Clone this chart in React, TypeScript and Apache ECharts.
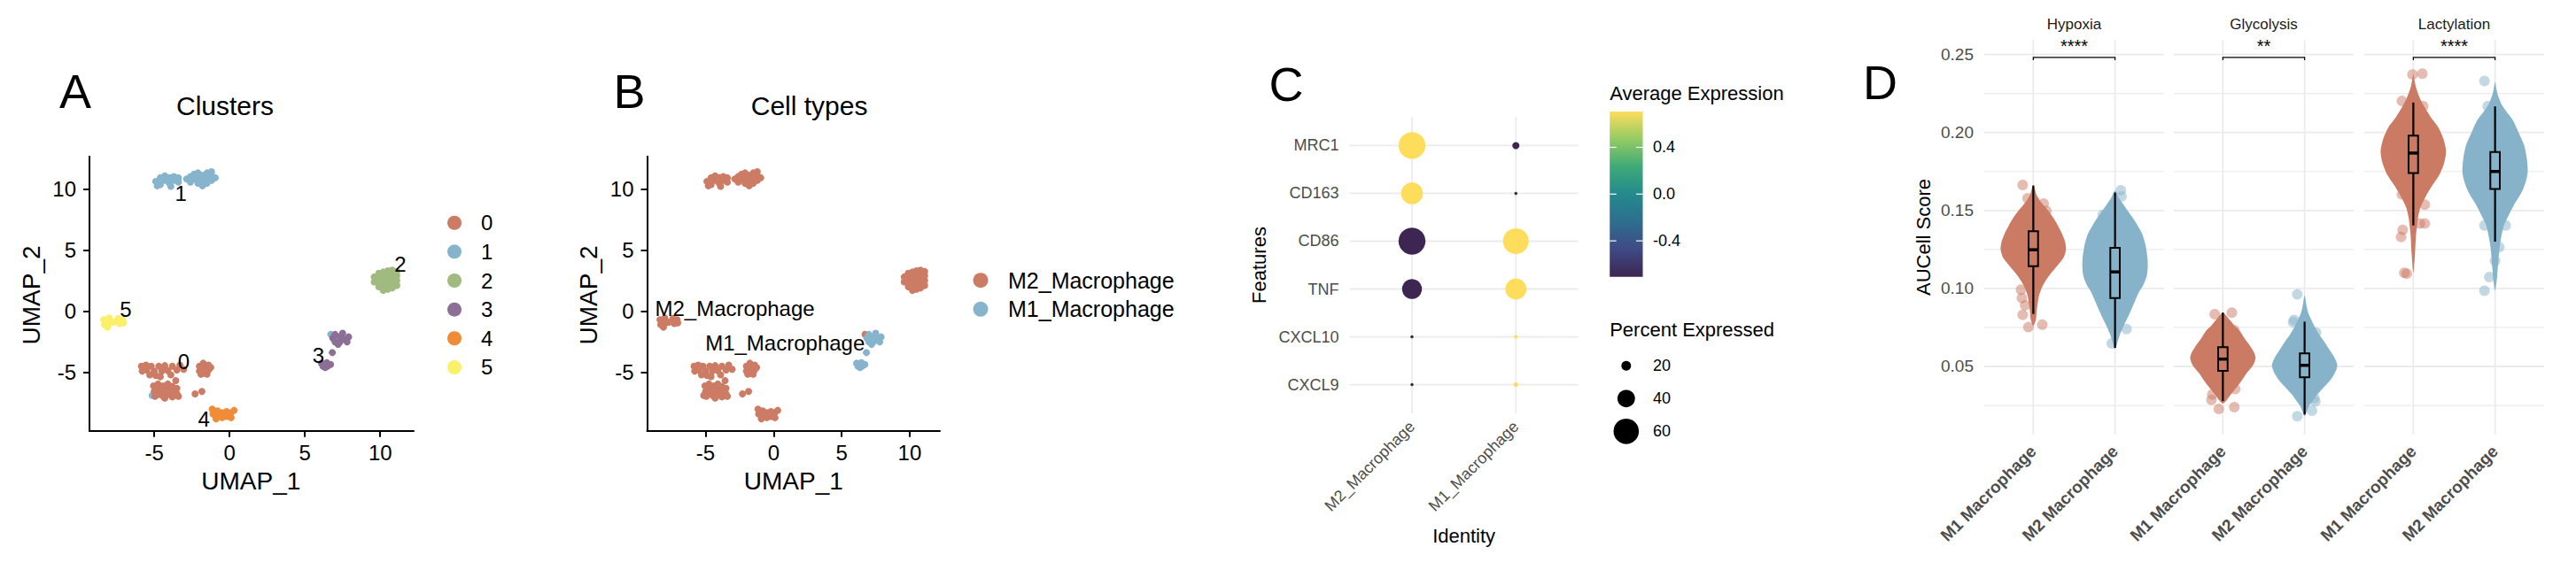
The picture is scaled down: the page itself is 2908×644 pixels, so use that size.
import React, { useEffect, useRef } from "react";
import * as echarts from "echarts";

const FONT = "'Liberation Sans', Arial, Helvetica, sans-serif";

// ---------------- Panels A / B : UMAP ----------------
const UMAP_X_RANGE = [-9.3, 12.22];
const UMAP_Y_RANGE = [-9.77, 12.65];
const UMAP_TICKS = [-5, 0, 5, 10];

const CLUSTER_IDS = ["0", "1", "2", "3", "4", "5"];
const CLUSTER_COLORS = ["#CC7B65", "#86B4CC", "#A0BA80", "#8C6F95", "#F08C38", "#FAF06A"];

const CLUSTER_0 = [
  [-5.85, -4.5], [-5.8, -4.9], [-5.55, -4.4], [-5.5, -4.8], [-5.3, -5.2], [-5.2, -4.5], [-5.0, -4.9],
  [-4.9, -5.25], [-4.7, -4.5], [-4.5, -4.9], [-4.3, -4.45], [-4.1, -4.85], [-3.9, -5.2], [-3.8, -4.5],
  [-3.5, -4.8], [-3.3, -4.4], [-3.05, -4.75], [-4.6, -5.35],
  [-5.05, -6.1], [-5.0, -6.55], [-4.75, -5.95], [-4.7, -6.35], [-4.7, -6.8], [-4.4, -6.1], [-4.4, -6.5],
  [-4.4, -6.95], [-4.1, -5.95], [-4.1, -6.35], [-4.1, -6.8], [-3.8, -6.15], [-3.8, -6.55], [-3.8, -7.0],
  [-3.5, -6.3], [-3.5, -6.75], [-4.95, -6.95], [-3.4, -6.95], [-3.57, -5.67], [-4.3, -7.1],
  [-2.0, -4.5], [-2.0, -4.9], [-1.75, -4.25], [-1.7, -4.65], [-1.7, -5.05], [-1.4, -4.4], [-1.4, -4.8],
  [-1.25, -4.6], [-1.9, -5.15], [-1.5, -5.15],
  [-2.29, -6.75], [-1.84, -6.56],
];
const CLUSTER_1 = [
  [-4.9, 10.6], [-4.6, 10.9], [-4.6, 10.35], [-4.3, 10.7], [-4.3, 11.05], [-4.0, 10.45], [-4.0, 10.9],
  [-3.7, 10.7], [-3.7, 11.0], [-3.4, 10.55], [-3.4, 10.9], [-4.8, 10.25], [-3.9, 10.2],
  [-2.85, 10.8], [-2.6, 10.55], [-2.6, 11.0], [-2.35, 10.8], [-2.35, 11.2], [-2.1, 10.45], [-2.1, 10.9],
  [-2.1, 11.3], [-1.8, 10.65], [-1.8, 11.1], [-1.8, 10.25], [-1.5, 10.9], [-1.5, 10.45], [-1.5, 11.3],
  [-1.2, 10.7], [-1.2, 11.1], [-0.95, 10.9], [-1.2, 11.4],
  [-5.14, -6.88], [6.72, -1.89],
];
const CLUSTER_2 = [
  [9.6, 2.4], [9.6, 2.8], [9.9, 2.0], [9.9, 2.4], [9.9, 2.8], [9.9, 3.1], [10.2, 1.7], [10.2, 2.1],
  [10.2, 2.5], [10.2, 2.9], [10.2, 3.2], [10.5, 1.8], [10.5, 2.2], [10.5, 2.6], [10.5, 3.0], [10.5, 3.3],
  [10.8, 1.9], [10.8, 2.3], [10.8, 2.7], [10.8, 3.1], [10.8, 3.35], [11.1, 2.1], [11.1, 2.5], [11.1, 2.9],
  [11.1, 3.25],
];
const CLUSTER_3 = [
  [6.85, -2.2], [7.0, -1.9], [7.0, -2.5], [7.3, -2.1], [7.3, -2.55], [7.5, -1.8], [7.6, -2.3],
  [7.9, -2.1], [7.8, -2.5], [7.2, -2.7], [6.82, -3.38],
  [6.1, -4.25], [6.2, -4.5], [6.45, -4.2], [6.5, -4.5], [6.7, -4.35], [6.35, -4.6],
];
const CLUSTER_4 = [
  [-1.15, -8.0], [-1.1, -8.4], [-0.8, -8.15], [-0.8, -8.55], [-0.5, -8.3], [-0.5, -8.7], [-0.2, -8.2],
  [-0.2, -8.6], [0.1, -8.3], [0.1, -8.7], [0.3, -8.1], [-0.9, -8.8],
];
const CLUSTER_5 = [
  [-8.35, -0.7], [-8.3, -1.1], [-8.0, -0.55], [-8.0, -1.0], [-8.1, -1.3], [-7.7, -0.9], [-7.4, -0.6],
  [-7.3, -1.0], [-7.1, -0.7], [-7.05, -0.95],
];
const CLUSTER_POINTS = [CLUSTER_0, CLUSTER_1, CLUSTER_2, CLUSTER_3, CLUSTER_4, CLUSTER_5];
const CLUSTER_DRAW_ORDER = [1, 0, 2, 3, 4, 5];
const CLUSTER_LABEL_POS = [[-3.04, -4.1], [-3.24, 9.64], [11.33, 3.85], [5.9, -3.62], [-1.7, -8.8], [-6.9, 0.12]];

const CELL_TYPES = ["M2_Macrophage", "M1_Macrophage"];
const CELL_TYPE_COLORS = ["#CC7B65", "#86B4CC"];
const CLUSTER_TO_CELL_TYPE = [0, 0, 0, 1, 0, 0];
const CELL_TYPE_LABEL_POS = [[-2.85, 0.26], [0.84, -2.63]];

// ---------------- Panel C : dot plot ----------------
const FEATURES = ["MRC1", "CD163", "CD86", "TNF", "CXCL10", "CXCL9"];
const IDENTITIES = ["M2_Macrophage", "M1_Macrophage"];
const AVG_EXP_M2 = [0.707, 0.707, -0.707, -0.707, -0.707, -0.707];
const AVG_EXP_M1 = [-0.707, -0.707, 0.707, 0.707, 0.707, 0.707];
const PCT_EXP_M2 = [64, 51, 64, 46, 3.5, 3.4];
const PCT_EXP_M1 = [13.5, 3.4, 61, 49, 5, 7];
const AVG_EXP_LIMIT = 0.7071;
const COLORBAR_TICKS = [-0.4, 0, 0.4];
const SIZE_LEGEND = [20, 40, 60];
const VIRIDIS = ["#3D2652", "#3F4A85", "#2E6E8E", "#238A8D", "#3FAA78", "#94CB63", "#FEDD5C"];

// ---------------- Panel D : violins ----------------
const FACETS = ["Hypoxia", "Glycolysis", "Lactylation"];
const GROUPS = ["M1 Macrophage", "M2 Macrophage"];
const GROUP_COLORS = ["#CB7A64", "#86B3CA"];
const SIG_LABELS = ["****", "**", "****"];
const SIG_Y = 0.2481;
const AUC_Y_RANGE = [0.0064, 0.2593];
const AUC_MAJOR = [0.05, 0.1, 0.15, 0.2, 0.25];
const AUC_MINOR = [0.025, 0.075, 0.125, 0.175, 0.225];

// [value, relative density width]
const HYPOXIA_M1_DENSITY = [[0.166, 0], [0.16, 0.1], [0.155, 0.25], [0.15, 0.45], [0.145, 0.62], [0.14, 0.76], [0.135, 0.88], [0.13, 0.97], [0.125, 1.0], [0.12, 0.93], [0.115, 0.75], [0.11, 0.55], [0.105, 0.38], [0.1, 0.25], [0.095, 0.17], [0.09, 0.13], [0.085, 0.1], [0.08, 0.08], [0.076, 0]];
const HYPOXIA_M2_DENSITY = [[0.1626, 0], [0.158, 0.12], [0.154, 0.25], [0.15, 0.38], [0.145, 0.55], [0.14, 0.7], [0.135, 0.83], [0.128, 0.93], [0.12, 0.99], [0.114, 1.0], [0.108, 0.97], [0.102, 0.86], [0.098, 0.74], [0.093, 0.63], [0.087, 0.51], [0.081, 0.38], [0.075, 0.24], [0.07, 0.14], [0.065, 0.07], [0.061, 0]];
const GLYCOLYSIS_M1_DENSITY = [[0.0845, 0], [0.08, 0.2], [0.076, 0.36], [0.073, 0.51], [0.068, 0.66], [0.0635, 0.82], [0.059, 0.95], [0.0554, 1.0], [0.051, 0.93], [0.0449, 0.7], [0.041, 0.58], [0.0379, 0.47], [0.034, 0.32], [0.0309, 0.2], [0.028, 0.1], [0.0262, 0]];
const GLYCOLYSIS_M2_DENSITY = [[0.0957, 0], [0.09, 0.05], [0.085, 0.1], [0.08, 0.2], [0.075, 0.32], [0.07, 0.46], [0.0659, 0.6], [0.06, 0.78], [0.055, 0.93], [0.0507, 1.0], [0.046, 0.93], [0.041, 0.78], [0.0355, 0.54], [0.031, 0.35], [0.0285, 0.27], [0.024, 0.12], [0.0181, 0]];
const LACTYLATION_M1_DENSITY = [[0.2372, 0], [0.233, 0.04], [0.229, 0.08], [0.222, 0.2], [0.215, 0.38], [0.209, 0.56], [0.2034, 0.76], [0.196, 0.92], [0.1882, 1.0], [0.181, 0.95], [0.173, 0.8], [0.166, 0.58], [0.159, 0.38], [0.152, 0.22], [0.145, 0.14], [0.1334, 0.08], [0.122, 0.05], [0.11, 0]];
const LACTYLATION_M2_DENSITY = [[0.2325, 0], [0.228, 0.04], [0.2244, 0.08], [0.218, 0.2], [0.213, 0.36], [0.208, 0.54], [0.2, 0.72], [0.1917, 0.89], [0.1835, 0.97], [0.1754, 1.0], [0.17, 0.96], [0.1638, 0.86], [0.159, 0.74], [0.1544, 0.6], [0.147, 0.42], [0.1404, 0.27], [0.133, 0.19], [0.1264, 0.14], [0.1124, 0.08], [0.105, 0.05], [0.0985, 0]];

// [min, q1, median, q3, max]
const HYPOXIA_BOX = [[0.0836, 0.1143, 0.1248, 0.1367, 0.166], [0.0619, 0.0938, 0.1106, 0.126, 0.1615]];
const GLYCOLYSIS_BOX = [[0.0278, 0.0472, 0.0547, 0.0624, 0.0845], [0.0192, 0.043, 0.0507, 0.0584, 0.0787]];
const LACTYLATION_BOX = [[0.1404, 0.174, 0.1868, 0.198, 0.2192], [0.13, 0.1638, 0.175, 0.1875, 0.2167]];

// jittered cells: [horizontal jitter, score]
const HYPOXIA_M1_CELLS = [[-0.13, 0.1663], [-0.07, 0.1578], [0.126, 0.1544], [0.16, 0.1497], [-0.15, 0.0992], [-0.14, 0.0938], [-0.1, 0.0892], [-0.13, 0.0831], [-0.06, 0.0752], [0.11, 0.0768]];
const HYPOXIA_M2_CELLS = [[0.07, 0.163], [0.08, 0.159], [-0.15, 0.1472], [0.14, 0.074], [-0.04, 0.0647]];
const GLYCOLYSIS_M1_CELLS = [[0.11, 0.0845], [0.14, 0.0733], [-0.1, 0.0835], [-0.14, 0.0285], [-0.05, 0.0227], [0.14, 0.0239], [0.15, 0.0355], [-0.13, 0.032]];
const GLYCOLYSIS_M2_CELLS = [[-0.09, 0.0962], [-0.13, 0.0798], [-0.14, 0.0784], [0.14, 0.0717], [0.12, 0.0297], [-0.09, 0.0181], [0.09, 0.0216], [0.13, 0.0275]];
const LACTYLATION_M1_CELLS = [[-0.01, 0.2372], [0.11, 0.2377], [-0.14, 0.2202], [0.12, 0.2169], [-0.14, 0.1603], [0.14, 0.1537], [0.14, 0.1416], [0.08, 0.1416], [-0.13, 0.1376], [-0.15, 0.133], [-0.11, 0.11], [-0.08, 0.1095]];
const LACTYLATION_M2_CELLS = [[-0.13, 0.233], [-0.09, 0.2169], [0.14, 0.2057], [-0.1, 0.2045], [-0.13, 0.1404], [0.13, 0.1404], [0.05, 0.1264], [0.0, 0.1176], [-0.07, 0.1073], [-0.13, 0.0985]];

const DENSITIES = [
  [HYPOXIA_M1_DENSITY, HYPOXIA_M2_DENSITY],
  [GLYCOLYSIS_M1_DENSITY, GLYCOLYSIS_M2_DENSITY],
  [LACTYLATION_M1_DENSITY, LACTYLATION_M2_DENSITY],
];
const BOXES = [HYPOXIA_BOX, GLYCOLYSIS_BOX, LACTYLATION_BOX];
const CELLS = [
  [HYPOXIA_M1_CELLS, HYPOXIA_M2_CELLS],
  [GLYCOLYSIS_M1_CELLS, GLYCOLYSIS_M2_CELLS],
  [LACTYLATION_M1_CELLS, LACTYLATION_M2_CELLS],
];

const dotDiameter = (p: number) => 2 + 0.445 * p;

function T(text: string, x: number, y: number, size: number, o: any = {}) {
  const align = o.align || "center";
  const va = o.va || "middle";
  return {
    type: "text",
    x,
    y,
    rotation: o.rotation || 0,
    silent: true,
    z: 10,
    style: {
      text,
      fontSize: size,
      fontFamily: FONT,
      fontWeight: o.weight || "normal",
      fill: o.color || "#000",
      align,
      verticalAlign: va,
      textAlign: align,
      textVerticalAlign: va,
    },
  };
}

function buildOption() {
  const gridD = (left: number) => ({ left, top: 45.2, width: 203, height: 445.6, containLabel: false, outerBoundsMode: "none" });
  const grids = [
    { left: 101, top: 176.7, width: 366, height: 310, containLabel: false, outerBoundsMode: "none" },
    { left: 730.5, top: 176.7, width: 330.5, height: 310, containLabel: false, outerBoundsMode: "none" },
    { left: 1523.6, top: 132, width: 258, height: 335, containLabel: false, outerBoundsMode: "none" },
    gridD(2240),
    gridD(2454),
    gridD(2669),
  ];

  const umapAxis = (gridIndex: number, range: number[], margin: number) => ({
    gridIndex,
    type: "value",
    min: range[0],
    max: range[1],
    axisLine: { show: true, onZero: false, lineStyle: { color: "#000", width: 2 } },
    axisTick: { show: true, customValues: UMAP_TICKS, length: 7, lineStyle: { color: "#000", width: 2 } },
    axisLabel: { customValues: UMAP_TICKS, fontSize: 24, color: "#000", fontFamily: FONT, margin },
    splitLine: { show: false },
  });

  const xAxis: any[] = [
    umapAxis(0, UMAP_X_RANGE, 13),
    umapAxis(1, UMAP_X_RANGE, 13),
    {
      gridIndex: 2, type: "value", min: 0.4, max: 2.6,
      axisLine: { show: false }, axisTick: { show: false }, splitLine: { show: false },
      axisLabel: {
        customValues: [1, 2], formatter: (v: number) => IDENTITIES[Math.round(v) - 1],
        rotate: 45, fontSize: 18, color: "#4D4D4D", fontFamily: FONT, margin: 12,
      },
    },
  ];
  const yAxis: any[] = [
    umapAxis(0, UMAP_Y_RANGE, 15),
    umapAxis(1, UMAP_Y_RANGE, 15),
    {
      gridIndex: 2, type: "value", min: 0.4, max: 6.6,
      axisLine: { show: false }, axisTick: { show: false }, splitLine: { show: false },
      axisLabel: {
        customValues: [1, 2, 3, 4, 5, 6], formatter: (v: number) => FEATURES[6 - Math.round(v)],
        fontSize: 18, color: "#4D4D4D", fontFamily: FONT, margin: 12,
      },
    },
  ];
  FACETS.forEach((_, i) => {
    xAxis.push({
      gridIndex: 3 + i, type: "value", min: 0.4, max: 2.6,
      axisLine: { show: false }, axisTick: { show: false }, splitLine: { show: false },
      axisLabel: {
        customValues: [1, 2], formatter: (v: number) => GROUPS[Math.round(v) - 1],
        rotate: 45, fontSize: 19, fontWeight: "bold", color: "#4D4D4D", fontFamily: FONT, margin: 16,
      },
    });
    yAxis.push({
      gridIndex: 3 + i, type: "value", min: AUC_Y_RANGE[0], max: AUC_Y_RANGE[1],
      axisLine: { show: false }, axisTick: { show: false }, splitLine: { show: false },
      axisLabel: i === 0
        ? { customValues: AUC_MAJOR, formatter: (v: number) => v.toFixed(2), fontSize: 19, color: "#4D4D4D", fontFamily: FONT, margin: 12 }
        : { show: false },
    });
  });

  const series: any[] = [];

  // ---- Panel A scatter ----
  CLUSTER_DRAW_ORDER.forEach((c) => {
    series.push({
      type: "scatter", name: CLUSTER_IDS[c], xAxisIndex: 0, yAxisIndex: 0,
      data: CLUSTER_POINTS[c], symbolSize: 8, itemStyle: { color: CLUSTER_COLORS[c], opacity: 1 }, z: 2, silent: true,
    });
  });
  const labelSeries = (axis: number, pos: number[][], texts: string[], size: number) => ({
    type: "custom", xAxisIndex: axis, yAxisIndex: axis, z: 5, clip: false, silent: true,
    data: pos,
    renderItem: (params: any, api: any) => {
      const p = api.coord([api.value(0), api.value(1)]);
      return {
        type: "text", x: p[0], y: p[1],
        style: { text: texts[params.dataIndex], fontSize: size, fontFamily: FONT, fill: "#000", align: "center", verticalAlign: "middle" },
      };
    },
  });
  series.push(labelSeries(0, CLUSTER_LABEL_POS, CLUSTER_IDS, 24));

  // ---- Panel B scatter ----
  CELL_TYPES.forEach((ct, k) => {
    const pts: number[][] = [];
    CLUSTER_DRAW_ORDER.forEach((c) => {
      if (CLUSTER_TO_CELL_TYPE[c] === k) CLUSTER_POINTS[c].forEach((p) => pts.push(p));
    });
    series.push({
      type: "scatter", name: ct, xAxisIndex: 1, yAxisIndex: 1,
      data: pts, symbolSize: 8, itemStyle: { color: CELL_TYPE_COLORS[k], opacity: 1 }, z: 2, silent: true,
    });
  });
  series.push(labelSeries(1, CELL_TYPE_LABEL_POS, CELL_TYPES, 24));

  // ---- grid line helpers ----
  const hLines = (axis: number, values: number[], xRef: number, width: number) => ({
    type: "custom", xAxisIndex: axis, yAxisIndex: axis, z: 1, silent: true, clip: false,
    data: values.map((v) => [xRef, v]),
    renderItem: (params: any, api: any) => {
      const cs = params.coordSys;
      const y = api.coord([api.value(0), api.value(1)])[1];
      return { type: "line", shape: { x1: cs.x, y1: y, x2: cs.x + cs.width, y2: y }, style: { stroke: "#EBEBEB", lineWidth: width } };
    },
  });
  const vLines = (axis: number, values: number[], yRef: number, width: number) => ({
    type: "custom", xAxisIndex: axis, yAxisIndex: axis, z: 1, silent: true, clip: false,
    data: values.map((v) => [v, yRef]),
    renderItem: (params: any, api: any) => {
      const cs = params.coordSys;
      const x = api.coord([api.value(0), api.value(1)])[0];
      return { type: "line", shape: { x1: x, y1: cs.y, x2: x, y2: cs.y + cs.height }, style: { stroke: "#EBEBEB", lineWidth: width } };
    },
  });

  // ---- Panel C ----
  series.push(hLines(2, [1, 2, 3, 4, 5, 6], 1, 1.8));
  series.push(vLines(2, [1, 2], 1, 1.8));
  const dotData: any[] = [];
  FEATURES.forEach((_, i) => {
    dotData.push([1, 6 - i, AVG_EXP_M2[i], PCT_EXP_M2[i]]);
    dotData.push([2, 6 - i, AVG_EXP_M1[i], PCT_EXP_M1[i]]);
  });
  const dotSeriesIndex = series.length;
  series.push({
    type: "scatter", xAxisIndex: 2, yAxisIndex: 2, z: 3, silent: true,
    data: dotData, symbolSize: (val: number[]) => dotDiameter(val[3]),
    itemStyle: { opacity: 1 },
  });

  // ---- Panel D ----
  const VIOLIN_HALF = 0.4;
  const BOX_HALF = 0.058;
  FACETS.forEach((_, f) => {
    const ax = 3 + f;
    series.push(hLines(ax, AUC_MINOR, 1, 1.2));
    series.push(hLines(ax, AUC_MAJOR, 1, 1.8));
    series.push(vLines(ax, [1, 2], 0.1, 1.8));
    GROUPS.forEach((g, gi) => {
      series.push({
        type: "scatter", xAxisIndex: ax, yAxisIndex: ax, z: 2, silent: true,
        data: CELLS[f][gi].map(([off, v]) => [gi + 1 + off, v]),
        symbolSize: 12, itemStyle: { color: GROUP_COLORS[gi], opacity: 0.5 },
      });
    });
    series.push({
      type: "custom", xAxisIndex: ax, yAxisIndex: ax, z: 3, silent: true, clip: false,
      data: BOXES[f].map((b, gi) => [gi + 1, b[2]]),
      renderItem: (params: any, api: any) => {
        const gi = params.dataIndex;
        const cat = gi + 1;
        const prof = DENSITIES[f][gi];
        const left = prof.map(([v, w]) => api.coord([cat - w * VIOLIN_HALF, v]));
        const right = prof.slice(1, prof.length - 1).reverse().map(([v, w]) => api.coord([cat + w * VIOLIN_HALF, v]));
        const b = BOXES[f][gi];
        const pMax = api.coord([cat, b[4]]);
        const pMin = api.coord([cat, b[0]]);
        const tl = api.coord([cat - BOX_HALF, b[3]]);
        const br = api.coord([cat + BOX_HALF, b[1]]);
        const ml = api.coord([cat - BOX_HALF, b[2]]);
        const mr = api.coord([cat + BOX_HALF, b[2]]);
        return {
          type: "group",
          children: [
            { type: "polygon", shape: { points: left.concat(right), smooth: 0.25 }, style: { fill: GROUP_COLORS[gi] } },
            { type: "line", shape: { x1: pMax[0], y1: pMax[1], x2: pMin[0], y2: pMin[1] }, style: { stroke: "#000", lineWidth: 2.2 } },
            { type: "rect", shape: { x: tl[0], y: tl[1], width: br[0] - tl[0], height: br[1] - tl[1] }, style: { fill: GROUP_COLORS[gi], stroke: "#000", lineWidth: 2 } },
            { type: "line", shape: { x1: ml[0], y1: ml[1], x2: mr[0], y2: mr[1] }, style: { stroke: "#000", lineWidth: 3.5 } },
          ],
        };
      },
    });
    series.push({
      type: "custom", xAxisIndex: ax, yAxisIndex: ax, z: 4, silent: true, clip: false,
      data: [[1.5, SIG_Y]],
      renderItem: (params: any, api: any) => {
        const a = api.coord([1, api.value(1)]);
        const b = api.coord([2, api.value(1)]);
        return {
          type: "group",
          children: [
            { type: "polyline", shape: { points: [[a[0], a[1] + 3], a, b, [b[0], b[1] + 3]] }, style: { stroke: "#000", lineWidth: 1.2, fill: null } },
            { type: "text", x: (a[0] + b[0]) / 2, y: a[1] - 3, style: { text: SIG_LABELS[f], fontSize: 20, fontFamily: FONT, fill: "#000", align: "center", verticalAlign: "bottom" } },
          ],
        };
      },
    });
  });

  // ---------------- graphic ----------------
  const graphic: any[] = [];
  graphic.push(T("A", 67, 102.5, 54, { align: "left" }));
  graphic.push(T("B", 692.6, 102.5, 54, { align: "left" }));
  graphic.push(T("C", 1432.5, 94.5, 54, { align: "left" }));
  graphic.push(T("D", 2103, 92.5, 54, { align: "left" }));

  graphic.push(T("Clusters", 254, 119, 30));
  graphic.push(T("Cell types", 913.6, 119, 30));
  graphic.push(T("UMAP_1", 283.3, 543, 28));
  graphic.push(T("UMAP_2", 35, 333.5, 28, { rotation: Math.PI / 2 }));
  graphic.push(T("UMAP_1", 895.8, 543, 28));
  graphic.push(T("UMAP_2", 664.5, 333.5, 28, { rotation: Math.PI / 2 }));

  CLUSTER_IDS.forEach((id, i) => {
    const y = 251.7 + i * 32.65;
    graphic.push({ type: "circle", shape: { cx: 513, cy: y, r: 8 }, style: { fill: CLUSTER_COLORS[i] }, silent: true });
    graphic.push(T(id, 543, y, 24, { align: "left" }));
  });
  CELL_TYPES.forEach((ct, i) => {
    const y = 316.7 + i * 32.6;
    graphic.push({ type: "circle", shape: { cx: 1107, cy: y, r: 8.5 }, style: { fill: CELL_TYPE_COLORS[i] }, silent: true });
    graphic.push(T(ct, 1138, y, 25, { align: "left" }));
  });

  // Panel C titles & legends
  graphic.push(T("Features", 1421.7, 299.5, 22, { rotation: Math.PI / 2 }));
  graphic.push(T("Identity", 1652.6, 605.7, 22));
  graphic.push(T("Average Expression", 1817.2, 105, 22, { align: "left" }));
  const cbX = 1817.2, cbY = 125.9, cbW = 37.3, cbH = 186.8;
  graphic.push({
    type: "rect", shape: { x: cbX, y: cbY, width: cbW, height: cbH }, silent: true,
    style: {
      fill: {
        type: "linear", x: 0, y: 0, x2: 0, y2: 1,
        colorStops: VIRIDIS.slice().reverse().map((c, i) => ({ offset: i / (VIRIDIS.length - 1), color: c })),
      },
    },
  });
  COLORBAR_TICKS.forEach((t) => {
    const y = cbY + ((AVG_EXP_LIMIT - t) / (2 * AVG_EXP_LIMIT)) * cbH;
    graphic.push({ type: "line", shape: { x1: cbX, y1: y, x2: cbX + 7.5, y2: y }, style: { stroke: "#fff", lineWidth: 1.2 }, silent: true, z: 11 });
    graphic.push({ type: "line", shape: { x1: cbX + cbW - 7.5, y1: y, x2: cbX + cbW, y2: y }, style: { stroke: "#fff", lineWidth: 1.2 }, silent: true, z: 11 });
    graphic.push(T(t.toFixed(1), 1866, y, 18, { align: "left" }));
  });
  graphic.push(T("Percent Expressed", 1817.2, 372.6, 22, { align: "left" }));
  SIZE_LEGEND.forEach((p, i) => {
    const y = 413.3 + i * 37;
    graphic.push({ type: "circle", shape: { cx: 1835.8, cy: y, r: dotDiameter(p) / 2 }, style: { fill: "#000" }, silent: true });
    graphic.push(T(String(p), 1866, y, 18, { align: "left" }));
  });

  // Panel D titles
  graphic.push(T("AUCell Score", 2171.7, 268, 22, { rotation: Math.PI / 2 }));
  FACETS.forEach((f, i) => {
    const g = grids[3 + i];
    graphic.push(T(f, g.left + g.width / 2, 27, 17, { color: "#1A1A1A" }));
  });

  return {
    animation: false,
    backgroundColor: "#ffffff",
    textStyle: { fontFamily: FONT },
    grid: grids,
    xAxis,
    yAxis,
    visualMap: [
      {
        type: "continuous", show: false, min: -AVG_EXP_LIMIT, max: AVG_EXP_LIMIT, dimension: 2,
        seriesIndex: [dotSeriesIndex], inRange: { color: VIRIDIS },
      },
    ],
    series,
    graphic,
  };
}

export default function App() {
  const ref = useRef<HTMLDivElement>(null);
  useEffect(() => {
    if (!ref.current) return;
    const chart = echarts.init(ref.current, null, { renderer: "svg" });
    chart.setOption(buildOption() as any);
    return () => chart.dispose();
  }, []);
  return (
    <div
      ref={ref}
      style={{ position: "absolute", left: 0, top: 0, width: 2908, height: 644, background: "#fff" }}
    />
  );
}
